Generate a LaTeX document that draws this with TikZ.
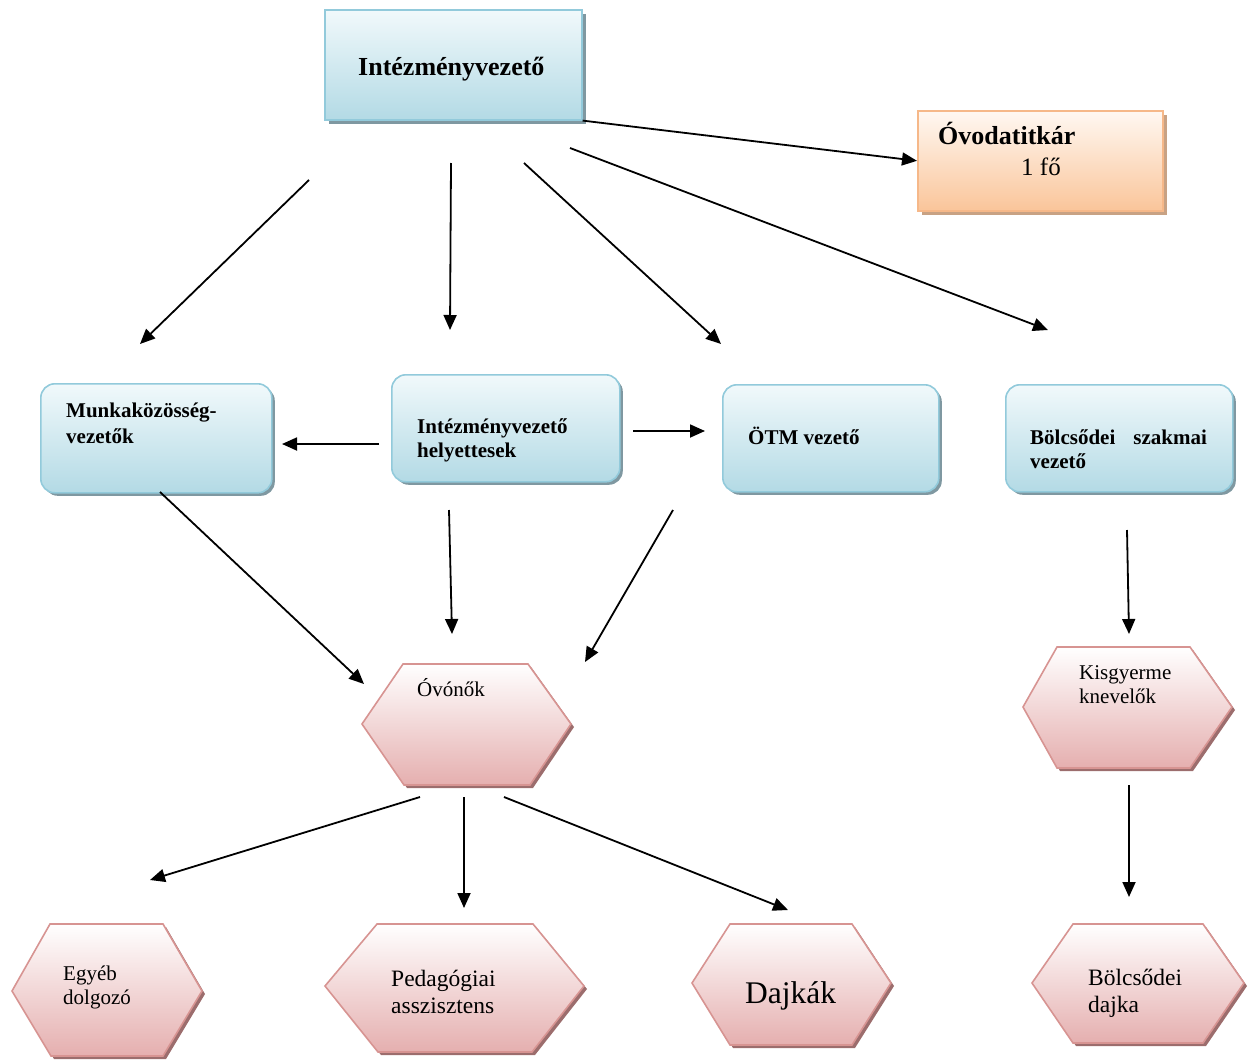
\documentclass[tikz,border=0pt]{standalone}
\usepackage{fontspec}
\setmainfont{Liberation Serif}
\usetikzlibrary{arrows.meta,shadows}
\definecolor{bluetop}{HTML}{F1F9FB}
\definecolor{bluebot}{HTML}{B3DAE5}
\definecolor{blueline}{HTML}{92CADB}
\definecolor{blueshadow}{HTML}{7F98A1}
\definecolor{hextop}{HTML}{FFFFFF}
\definecolor{hexbot}{HTML}{E5AFAF}
\definecolor{hexline}{HTML}{D79492}
\definecolor{hexshadow}{HTML}{9C6D6D}
\definecolor{ortop}{HTML}{FFF8F2}
\definecolor{orbot}{HTML}{FAC59A}
\definecolor{orline}{HTML}{F6B889}
\definecolor{orshadow}{HTML}{C8A284}
\tikzset{
  bluebox/.style={draw=blueline, line width=1.6pt, top color=bluetop, bottom color=bluebot,
    rounded corners=14pt, anchor=north west, inner sep=0pt,
    drop shadow={shadow xshift=3pt, shadow yshift=-3pt, fill=blueshadow, opacity=1}},
  topbox/.style={draw=blueline, line width=1.6pt, top color=bluetop, bottom color=bluebot,
    anchor=north west, inner sep=0pt,
    drop shadow={shadow xshift=4pt, shadow yshift=-4pt, fill=blueshadow, opacity=1}},
  orbox/.style={draw=orline, line width=1.6pt, top color=ortop, bottom color=orbot,
    anchor=north west, inner sep=0pt,
    drop shadow={shadow xshift=4pt, shadow yshift=-4pt, fill=orshadow, opacity=1}},
  hexa/.style={draw=hexline, line width=1.6pt, top color=hextop, bottom color=hexbot,
    line join=miter,
    drop shadow={shadow xshift=3pt, shadow yshift=-3pt, fill=hexshadow, opacity=1}},
  lbl/.style={anchor=base west, inner sep=0pt, align=left},
  arr/.style={line width=1.8pt, -{Triangle[length=15pt,width=13pt]}},
}
\begin{document}
\begin{tikzpicture}[x=1pt,y=-1pt]
\useasboundingbox (0,0) rectangle (1253,1060);

% boxes (two-line labels are placed at the baseline of their last line)
\node[topbox, minimum width=257pt, minimum height=110pt] (top) at (324,9) {};
\node[lbl, font=\fontsize{26}{30}\selectfont\bfseries] (toplbl) at (358,75) {Intézményvezető};

\node[orbox, minimum width=245pt, minimum height=100pt] (titkar) at (917,110) {};
\node[lbl, font=\fontsize{26}{30}\selectfont\bfseries] (titkarlbl) at (938,144) {Óvodatitkár};
\node[lbl, font=\fontsize{25}{30}\selectfont] (titkarfo) at (1021,175) {1 fő};

\node[bluebox, minimum width=231pt, minimum height=109pt] (munk) at (40,383) {};
\node[lbl, font=\fontsize{21}{26}\selectfont\bfseries] (munklbl) at (66,443) {Munkaközösség-\\vezetők};

\node[bluebox, minimum width=228pt, minimum height=107pt] (helyet) at (391,374) {};
\node[lbl, font=\fontsize{21}{23.5}\selectfont\bfseries] (helyetlbl) at (417,457) {Intézményvezető\\helyettesek};

\node[bluebox, minimum width=216pt, minimum height=107pt] (otm) at (722,384) {};
\node[lbl, font=\fontsize{21}{24}\selectfont\bfseries] (otmlbl) at (748,444) {ÖTM vezető};

\node[bluebox, minimum width=227pt, minimum height=107pt] (bolcsvez) at (1005,384) {};
\node[lbl, font=\fontsize{21}{24}\selectfont\bfseries] (bolcsvezlbl) at (1030,468) {Bölcsődei\hspace{18pt}szakmai\\vezető};

% hexagons
\path[hexa] (362,724) -- (403,664) -- (528,664) -- (571,724) -- (530,785) -- (404,785) -- cycle;
\node[lbl, font=\fontsize{21}{24}\selectfont] (ovonok) at (417,696) {Óvónők};

\path[hexa] (1023,707) -- (1057,647) -- (1190,647) -- (1232,707) -- (1190,768) -- (1057,768) -- cycle;
\node[lbl, font=\fontsize{21}{23.5}\selectfont] (kisgy) at (1079,703) {Kisgyerme\\knevelők};

\path[hexa] (12,991) -- (50,924) -- (163,924) -- (202,991) -- (163,1056) -- (51,1056) -- cycle;
\node[lbl, font=\fontsize{21}{24}\selectfont] (egyeb) at (63,1004) {Egyéb\\dolgozó};

\path[hexa] (325,986) -- (377,924) -- (533,924) -- (584,986) -- (532,1052) -- (378,1052) -- cycle;
\node[lbl, font=\fontsize{23.5}{26.5}\selectfont] (pedas) at (391,1013) {Pedagógiai\\asszisztens};

\path[hexa] (692,983) -- (730,924) -- (852,924) -- (891,983) -- (852,1045) -- (730,1045) -- cycle;
\node[lbl, font=\fontsize{31.5}{36}\selectfont] (dajkak) at (745,1003) {Dajkák};

\path[hexa] (1032,983) -- (1073,924) -- (1203,924) -- (1244,983) -- (1203,1043) -- (1073,1043) -- cycle;
\node[lbl, font=\fontsize{23.5}{27}\selectfont] (bdajka) at (1088,1012) {Bölcsődei\\dajka};

% connector end points
\coordinate (s2) at (309,180);  \coordinate (e2) at (140,344);
\coordinate (s3) at (451,163);  \coordinate (e3) at (450,330);
\coordinate (s4) at (524,163);  \coordinate (e4) at (721,344);
\coordinate (s5) at (570,148);  \coordinate (e5) at (1048,330);
\coordinate (s6) at (379,444);  \coordinate (e6) at (282,444);
\coordinate (s7) at (633,431);  \coordinate (e7) at (705,431);
\coordinate (s8) at (160,492);  \coordinate (e8) at (364,684);
\coordinate (s9) at (449,510);  \coordinate (e9) at (452,634);
\coordinate (s10) at (673,510); \coordinate (e10) at (585,662);
\coordinate (s11) at (1127,530);\coordinate (e11) at (1129,634);
\coordinate (s12) at (420,797); \coordinate (e12) at (150,880);
\coordinate (s13) at (464,797); \coordinate (e13) at (464,908);
\coordinate (s14) at (504,797); \coordinate (e14) at (788,910);
\coordinate (s15) at (1129,785);\coordinate (e15) at (1129,897);

% connectors
\draw[arr] (top.south east) -- (titkar.west);
\draw[arr] (s2) -- (e2);
\draw[arr] (s3) -- (e3);
\draw[arr] (s4) -- (e4);
\draw[arr] (s5) -- (e5);
\draw[arr] (s6) -- (e6);
\draw[arr] (s7) -- (e7);
\draw[arr] (s8) -- (e8);
\draw[arr] (s9) -- (e9);
\draw[arr] (s10) -- (e10);
\draw[arr] (s11) -- (e11);
\draw[arr] (s12) -- (e12);
\draw[arr] (s13) -- (e13);
\draw[arr] (s14) -- (e14);
\draw[arr] (s15) -- (e15);
\end{tikzpicture}
\end{document}
